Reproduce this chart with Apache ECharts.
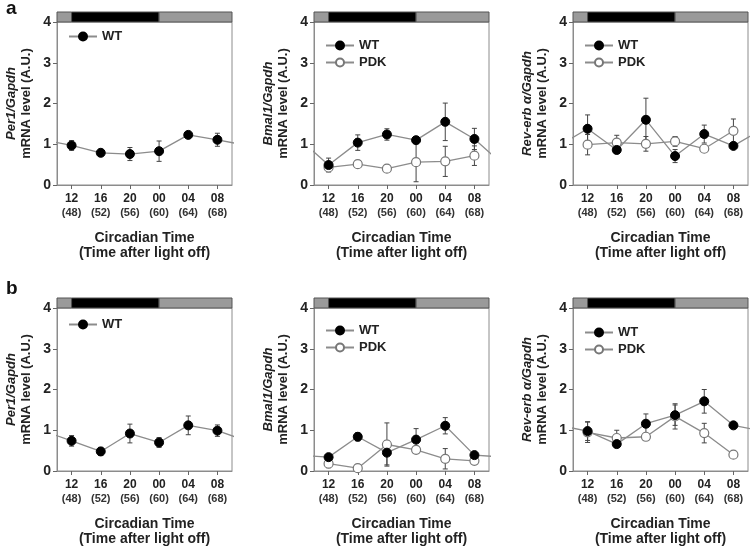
<!DOCTYPE html>
<html><head><meta charset="utf-8">
<script src="https://cdn.jsdelivr.net/npm/echarts@6/dist/echarts.min.js"></script>
<style>html,body{margin:0;padding:0;background:#fff}#c{width:750px;height:549px}</style>
</head><body><div id="c"></div>
<script>
// ---- data ----
const hours = [48, 52, 56, 60, 64, 68];
const ctLabels = ['12', '16', '20', '00', '04', '08'];
const hourLabels = ['(48)', '(52)', '(56)', '(60)', '(64)', '(68)'];
const darkStart = 48, darkEnd = 60;
const yTicks = [0, 1, 2, 3, 4];

const per1A_WT = [0.97, 0.79, 0.76, 0.83, 1.23, 1.11];
const per1A_WT_err = [0.12, 0.03, 0.16, 0.25, 0.04, 0.16];
const bmal1A_WT = [0.49, 1.04, 1.24, 1.10, 1.55, 1.13];
const bmal1A_WT_err = [0.17, 0.19, 0.14, 0.08, 0.46, 0.26];
const bmal1A_PDK = [0.43, 0.51, 0.40, 0.56, 0.58, 0.72];
const bmal1A_PDK_err = [0.10, 0.05, 0.03, 0.48, 0.37, 0.24];
const revA_WT = [1.38, 0.86, 1.60, 0.71, 1.25, 0.96];
const revA_WT_err = [0.34, 0.05, 0.53, 0.16, 0.22, 0.06];
const revA_PDK = [0.99, 1.04, 1.01, 1.07, 0.89, 1.33];
const revA_PDK_err = [0.25, 0.18, 0.18, 0.12, 0.03, 0.29];

const per1B_WT = [0.74, 0.48, 0.92, 0.70, 1.12, 0.99];
const per1B_WT_err = [0.13, 0.10, 0.23, 0.12, 0.23, 0.14];
const bmal1B_WT = [0.34, 0.84, 0.45, 0.77, 1.11, 0.39];
const bmal1B_WT_err = [0.05, 0.10, 0.30, 0.27, 0.20, 0.05];
const bmal1B_PDK = [0.18, 0.07, 0.65, 0.52, 0.30, 0.25];
const bmal1B_PDK_err = [0.10, 0.04, 0.53, 0.05, 0.25, 0.08];
const revB_WT = [0.98, 0.66, 1.16, 1.37, 1.71, 1.12];
const revB_WT_err = [0.23, 0.05, 0.24, 0.25, 0.29, 0.06];
const revB_PDK = [0.95, 0.81, 0.84, 1.34, 0.93, 0.40];
const revB_PDK_err = [0.25, 0.19, 0.04, 0.31, 0.24, 0.04];

// ---- layout ----
const X_MIN = 46, X_MAX = 70, PERIOD = 24;
const FONT = 'Arial, "Liberation Sans", sans-serif';
const colLeft = [57, 314, 573];
const rowTop = [22, 308];
const GW = 175, GH = 163;

const panels = [
  {r:0,c:0,gene:'Per1/Gapdh',series:[['WT',per1A_WT,per1A_WT_err]],legTop:25},
  {r:0,c:1,gene:'Bmal1/Gapdh',series:[['WT',bmal1A_WT,bmal1A_WT_err],['PDK',bmal1A_PDK,bmal1A_PDK_err]],legTop:34},
  {r:0,c:2,gene:'Rev-erb α/Gapdh',series:[['WT',revA_WT,revA_WT_err],['PDK',revA_PDK,revA_PDK_err]],legTop:34},
  {r:1,c:0,gene:'Per1/Gapdh',series:[['WT',per1B_WT,per1B_WT_err]],legTop:313},
  {r:1,c:1,gene:'Bmal1/Gapdh',series:[['WT',bmal1B_WT,bmal1B_WT_err],['PDK',bmal1B_PDK,bmal1B_PDK_err]],legTop:319},
  {r:1,c:2,gene:'Rev-erb α/Gapdh',series:[['WT',revB_WT,revB_WT_err],['PDK',revB_PDK,revB_PDK_err]],legTop:321}
];

const grid = [], xAxis = [], yAxis = [], series = [], legend = [];
const lineColor = '#8c8c8c';
const axisColor = '#8c8c8c';

panels.forEach((p, i) => {
  const left = colLeft[p.c], top = rowTop[p.r];
  grid.push({left: left, top: top, width: GW, height: GH, show: true, borderColor: axisColor, borderWidth: 1, backgroundColor: 'transparent'});
  xAxis.push({
    gridIndex: i, type: 'value', min: X_MIN, max: X_MAX,
    splitLine: {show: false},
    axisLine: {lineStyle: {color: axisColor}},
    axisTick: {show: true, inside: false, length: 4, lineStyle: {color: '#666'}, customValues: hours},
    axisLabel: {
      customValues: hours, margin: 7, color: '#222',
      formatter: v => { const k = hours.indexOf(v); return k < 0 ? '' : '{a|' + ctLabels[k] + '}\n{b|' + hourLabels[k] + '}'; },
      rich: {a: {fontFamily: FONT, fontSize: 12, fontWeight: 'bold', lineHeight: 14, color: '#222'},
             b: {fontFamily: FONT, fontSize: 11, fontWeight: 'bold', lineHeight: 14, color: '#333'}}
    },
    name: 'Circadian Time\n(Time after light off)', nameLocation: 'middle', nameGap: 46,
    nameTextStyle: {fontFamily: FONT, fontSize: 14, fontWeight: 'bold', lineHeight: 15, color: '#222'}
  });
  yAxis.push({
    gridIndex: i, type: 'value', min: 0, max: 4, interval: 1,
    splitLine: {show: false},
    axisLine: {show: true, lineStyle: {color: axisColor}},
    axisTick: {show: true, inside: false, length: 4, lineStyle: {color: '#666'}},
    axisLabel: {margin: 6, fontFamily: FONT, fontSize: 14, fontWeight: 'bold', color: '#222'},
    name: '{g|' + p.gene + '}\n{m|mRNA level (A.U.)}', nameLocation: 'middle', nameGap: 23, nameRotate: 90,
    nameTextStyle: {rich: {
      g: {fontFamily: FONT, fontSize: 13, fontWeight: 'bold', fontStyle: 'italic', lineHeight: 15, color: '#222'},
      m: {fontFamily: FONT, fontSize: 13, fontWeight: 'bold', lineHeight: 15, color: '#222'}}}
  });
  p.series.forEach(([name, vals, errs]) => {
    const isWT = name === 'WT';
    let data = hours.map((h, k) => [h, vals[k]]);
    if (isWT) {
      // cyclic repetition of the rhythm beyond the window
      data = [[hours[hours.length - 1] - PERIOD, vals[vals.length - 1]]].concat(data, [[hours[0] + PERIOD, vals[0]]]);
    }
    series.push({
      type: 'custom', xAxisIndex: i, yAxisIndex: i, z: 2, silent: true,
      data: hours.map((h, k) => [h, vals[k] - errs[k], vals[k] + errs[k]]),
      encode: {x: 0, y: [1, 2]},
      renderItem: (params, api) => {
        const x = api.value(0), lo = api.value(1), hi = api.value(2);
        const a = api.coord([x, hi]), b = api.coord([x, lo]);
        const c = 2.5, st = {stroke: '#444', lineWidth: 1};
        return {type: 'group', children: [
          {type: 'line', shape: {x1: a[0], y1: a[1], x2: b[0], y2: b[1]}, style: st},
          {type: 'line', shape: {x1: a[0] - c, y1: a[1], x2: a[0] + c, y2: a[1]}, style: st},
          {type: 'line', shape: {x1: b[0] - c, y1: b[1], x2: b[0] + c, y2: b[1]}, style: st}
        ]};
      }
    });
    series.push({
      name: name, type: 'line', xAxisIndex: i, yAxisIndex: i, data: data, clip: true, z: isWT ? 4 : 3,
      symbol: 'circle', symbolSize: 9, showAllSymbol: true,
      lineStyle: {color: lineColor, width: 1.3},
      itemStyle: isWT ? {color: '#000', borderColor: '#000', borderWidth: 1}
                      : {color: '#fff', borderColor: '#777', borderWidth: 1.2},
      emphasis: {disabled: true}, animation: false
    });
  });
  legend.push({
    left: left + 6, top: p.legTop, orient: 'vertical', itemGap: 4, itemWidth: 28, itemHeight: 10,
    data: p.series.map(s => s[0]), selectedMode: false,
    textStyle: {fontFamily: FONT, fontSize: 13, fontWeight: 'bold', color: '#222'}
  });
});

// light/dark bars above each panel
const phaseData = [[X_MIN, darkStart, 0], [darkStart, darkEnd, 1], [darkEnd, X_MAX, 0]];
panels.forEach((p, i) => {
  const gi = panels.length + i;
  grid.push({left: colLeft[p.c], top: rowTop[p.r] - 10, width: GW, height: 10});
  xAxis.push({gridIndex: gi, type: 'value', min: X_MIN, max: X_MAX, show: false});
  yAxis.push({gridIndex: gi, type: 'value', min: 0, max: 1, show: false});
  series.push({
    type: 'custom', xAxisIndex: gi, yAxisIndex: gi, silent: true, data: phaseData,
    renderItem: (params, api) => {
      const a = api.coord([api.value(0), 1]), b = api.coord([api.value(1), 0]);
      return {type: 'rect', shape: {x: a[0], y: a[1], width: b[0] - a[0], height: b[1] - a[1]},
              style: {fill: api.value(2) ? '#000' : '#9a9a9a', stroke: '#555', lineWidth: 1}};
    }
  });
});

const chart = echarts.init(document.getElementById('c'), null, {renderer: 'canvas'});
chart.setOption({
  animation: false,
  backgroundColor: '#fff',
  title: [
    {text: 'a', left: 1, top: -6, textStyle: {fontFamily: FONT, fontSize: 19, fontWeight: 'bold', color: '#111'}},
    {text: 'b', left: 1, top: 274, textStyle: {fontFamily: FONT, fontSize: 19, fontWeight: 'bold', color: '#111'}}
  ],
  grid: grid, xAxis: xAxis, yAxis: yAxis, legend: legend, series: series
});
</script></body></html>
